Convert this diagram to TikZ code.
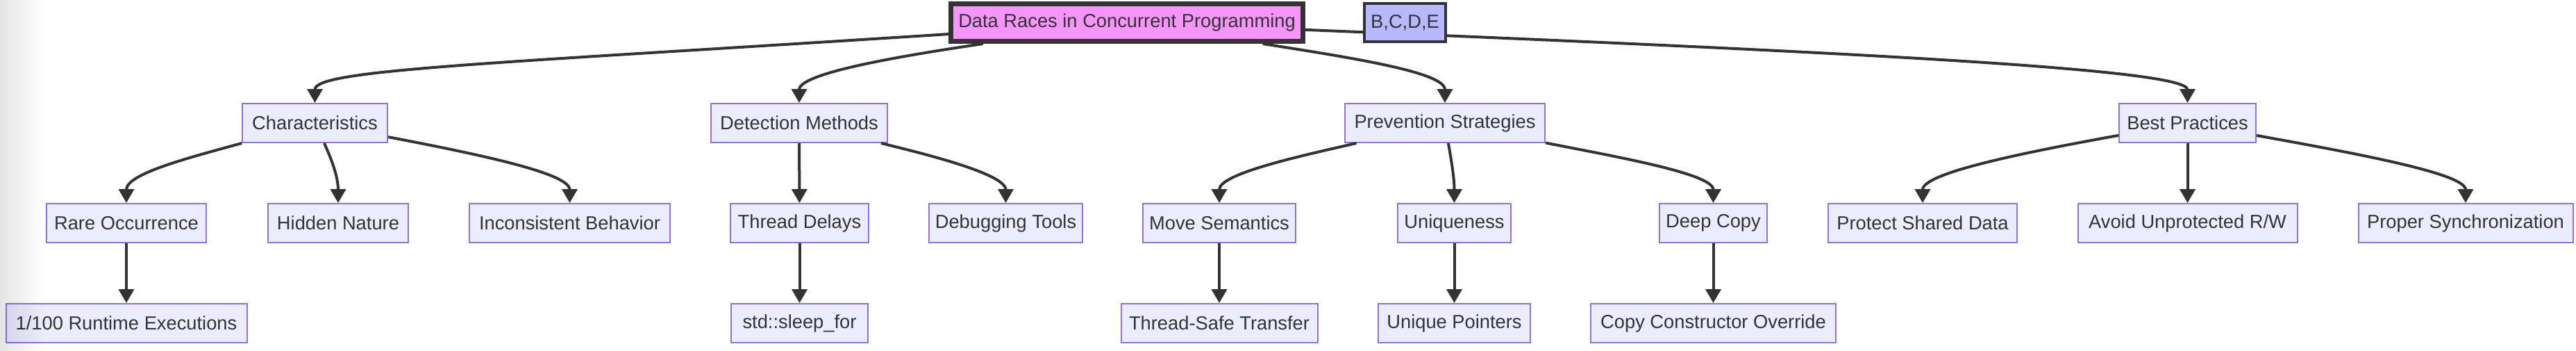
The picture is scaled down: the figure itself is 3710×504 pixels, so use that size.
\documentclass[tikz,border=0pt]{standalone}
\usepackage{fontspec}
\setmainfont{Liberation Sans}
\usetikzlibrary{arrows.meta}

\definecolor{boxfill}{HTML}{ECECFF}
\definecolor{boxline}{HTML}{9370DB}
\definecolor{ink}{HTML}{333333}
\definecolor{rootpink}{HTML}{F595F9}
\definecolor{tagblue}{HTML}{B8B8FF}

\tikzset{
  box/.style={draw=boxline, fill=boxfill, line width=2pt, minimum height=56pt,
    inner sep=0pt, text=ink, font=\fontsize{27.3}{33}\selectfont},
  link/.style={draw=ink, line width=4pt, -{Triangle[length=20pt,width=22pt]}},
}

\begin{document}
\begin{tikzpicture}[x=1pt, y=-1pt]
  \useasboundingbox (0,0) rectangle (3710,504);

  % Top: root and tag
  \node[box, draw=ink, fill=rootpink, line width=7pt, minimum width=507pt, minimum height=54pt] (root) at (1623,32.5) {Data Races in Concurrent Programming};

  % Row 1: main topics
  \node[box, minimum width=209pt] (char) at (453.5,177) {Characteristics};
  \node[box, minimum width=254pt] (detect) at (1151,177) {Detection Methods};
  \node[box, minimum width=288pt] (prevent) at (2081,177) {Prevention Strategies};
  \node[box, minimum width=197pt] (best) at (3150.5,177) {Best Practices};

  % Row 2
  \node[box, minimum width=230pt] (rare) at (182,321) {Rare Occurrence};
  \node[box, minimum width=202pt] (hidden) at (487,321) {Hidden Nature};
  \node[box, minimum width=289pt] (incons) at (820.5,321) {Inconsistent Behavior};
  \node[box, minimum width=199pt] (delays) at (1151.5,321) {Thread Delays};
  \node[box, minimum width=221pt] (debug) at (1448.5,321) {Debugging Tools};
  \node[box, minimum width=220pt] (move) at (1756,321) {Move Semantics};
  \node[box, minimum width=163pt] (unique) at (2094.5,321) {Uniqueness};
  \node[box, minimum width=155pt] (deep) at (2467.5,321) {Deep Copy};
  \node[box, minimum width=272pt] (protect) at (2769,321) {Protect Shared Data};
  \node[box, minimum width=316pt] (avoid) at (3150.5,321) {Avoid Unprotected R/W};
  \node[box, minimum width=309pt] (proper) at (3551,321) {Proper Synchronization};

  % Row 3
  \node[box, minimum width=347pt] (runtime) at (182,465) {1/100 Runtime Executions};
  \node[box, minimum width=197pt] (sleep) at (1151.5,465) {std::sleep\_for};
  \node[box, minimum width=283pt] (transfer) at (1756,465) {Thread-Safe Transfer};
  \node[box, minimum width=219pt] (pointers) at (2094.5,465) {Unique Pointers};
  \node[box, minimum width=353pt] (override) at (2467.5,465) {Copy Constructor Override};

  % Links from the root
  \draw[link] (root) .. controls (700,92) and (453.5,100) .. (char.north);
  \draw[link] (root) .. controls (1300,80) and (1151,105) .. (detect.north);
  \draw[link] (root) .. controls (1960,85) and (2081,105) .. (prevent.north);
  \draw[link] (root) .. controls (2700,76.5) and (3150.5,100) .. (best.north);

  % Links to row 2
  \draw[link] (char) .. controls (270,227.5) and (182,250) .. (rare.north);
  \draw[link] (char) .. controls (478,230) and (487,255) .. (hidden.north);
  \draw[link] (char) .. controls (700,224) and (820.5,250) .. (incons.north);
  \draw[link] (detect) -- (delays);
  \draw[link] (detect) .. controls (1330,221) and (1448.5,250) .. (debug.north);
  \draw[link] (prevent) .. controls (1870,225) and (1756,250) .. (move.north);
  \draw[link] (prevent) .. controls (2090,230) and (2094.5,255) .. (unique.north);
  \draw[link] (prevent) .. controls (2330,226) and (2467.5,250) .. (deep.north);
  \draw[link] (best) .. controls (2900,222) and (2769,250) .. (protect.north);
  \draw[link] (best) -- (avoid);
  \draw[link] (best) .. controls (3400,222) and (3551,250) .. (proper.north);

  % Links to row 3
  \draw[link] (rare) -- (runtime);
  \draw[link] (delays) -- (sleep);
  \draw[link] (move) -- (transfer);
  \draw[link] (unique) -- (pointers);
  \draw[link] (deep) -- (override);

  % Tag sits on top of the link to Best Practices
  \node[box, draw=ink, fill=tagblue, line width=4pt, minimum width=117pt, minimum height=55pt] (tag) at (2023.5,32.5) {B,C,D,E};

  % Shadow along the left edge
  \begin{scope}[blend mode=multiply]
    \shade[left color=black!10, right color=white] (0,0) rectangle (64,504);
  \end{scope}
\end{tikzpicture}
\end{document}
